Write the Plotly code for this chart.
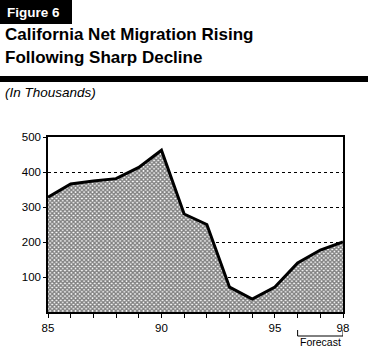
import plotly.graph_objects as go

years = [85, 86, 87, 88, 89, 90, 91, 92, 93, 94, 95, 96, 97, 98]
migration = [328, 366, 374, 381, 413, 462, 280, 250, 71, 37, 71, 140, 177, 200]
x_tick_vals = years
x_tick_text = ["85", "", "", "", "", "90", "", "", "", "", "95", "", "", "98"]
y_tick_vals = [100, 200, 300, 400, 500]
y_tick_text = ["100", "200", "300", "400", "500"]

W, H = 368, 359
L, R, T, B = 48, 25, 137, 47
pw, ph = W - L - R, H - T - B

def px(x):
    return (x - L) / pw

def py(y):
    return (H - B - y) / ph

fig = go.Figure()
fig.add_trace(go.Scatter(
    x=years, y=migration, mode="lines", fill="tozeroy",
    line=dict(color="black", width=3),
    fillpattern=dict(shape="x", size=3, solidity=0.7, fgcolor="black", bgcolor="white"),
    fillcolor="white",
    hoverinfo="skip", showlegend=False,
))

font = "Liberation Sans, Arial, sans-serif"
fig.update_layout(
    width=W, height=H,
    margin=dict(l=L, r=R, t=T, b=B, pad=0),
    paper_bgcolor="white", plot_bgcolor="white",
    font=dict(family=font, color="black", size=11),
    xaxis=dict(range=[85, 98], tickvals=x_tick_vals, ticktext=x_tick_text,
               showgrid=False, zeroline=False, showline=True, linecolor="black",
               linewidth=1.5, mirror=True, ticks="outside", ticklen=4,
               tickcolor="black", tickfont=dict(size=11.5, family=font)),
    yaxis=dict(range=[0, 500], tickvals=y_tick_vals, ticktext=y_tick_text,
               showgrid=True, gridcolor="black", griddash="dot", gridwidth=1,
               zeroline=False, showline=True, linecolor="black", linewidth=1.5,
               mirror=True, ticks="outside", ticklen=3, tickcolor="black",
               tickfont=dict(size=11.5, family=font)),
    shapes=[
        dict(type="rect", xref="paper", yref="paper", x0=px(0), x1=px(72), y0=py(0), y1=py(24),
             fillcolor="black", line=dict(width=0), layer="above"),
        dict(type="rect", xref="paper", yref="paper", x0=px(0), x1=px(368), y0=py(76), y1=py(82),
             fillcolor="black", line=dict(width=0), layer="above"),
        dict(type="path", xref="x", yref="paper",
             path=f"M 96,{py(330)} L 96,{py(336)} L 98,{py(336)} L 98,{py(330)}",
             line=dict(color="black", width=1)),
    ],
    annotations=[
        dict(text="<b>Figure 6</b>", xref="paper", yref="paper", x=px(5), y=py(12),
             xanchor="left", yanchor="middle", showarrow=False,
             font=dict(size=13.5, color="white", family=font)),
        dict(text="<b>California Net Migration Rising</b>", xref="paper", yref="paper",
             x=px(3), y=py(35), xanchor="left", yanchor="middle", showarrow=False,
             font=dict(size=17, family=font)),
        dict(text="<b>Following Sharp Decline</b>", xref="paper", yref="paper",
             x=px(3), y=py(58), xanchor="left", yanchor="middle", showarrow=False,
             font=dict(size=17, family=font)),
        dict(text="<i>(In Thousands)</i>", xref="paper", yref="paper",
             x=px(3), y=py(92), xanchor="left", yanchor="middle", showarrow=False,
             font=dict(size=13.5, family=font)),
        dict(text="Forecast", xref="x", yref="paper", x=97, y=py(342),
             xanchor="center", yanchor="middle", showarrow=False,
             font=dict(size=10.5, family=font)),
    ],
)

fig.write_html("out.html", config={"displayModeBar": False},
               post_script="document.body.style.margin='0px';")
